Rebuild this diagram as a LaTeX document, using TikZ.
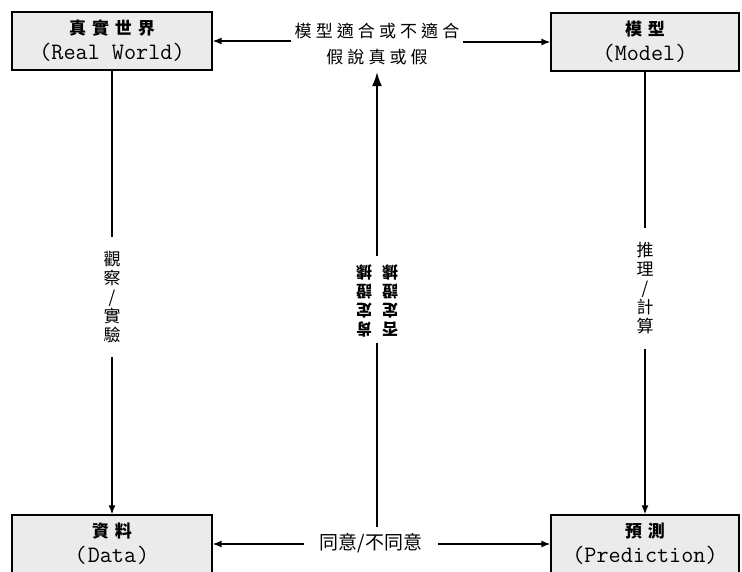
\documentclass[tikz,border=0pt]{standalone}
\usepackage{fontspec}
\setmainfont{Liberation Serif}
\newfontfamily\cjk{Noto Sans CJK TC}
\newfontfamily\mono{Latin Modern Mono}
\usetikzlibrary{arrows.meta,shadows}
\newcommand\lsp{\hspace{0.24em}}
\newcommand\bsp{\hspace{0.35em}}
\begin{document}
\begin{tikzpicture}[x=1pt,y=-1pt,
  box/.style={draw=black, line width=1.2pt, fill=black!8, minimum height=58pt,
    inner sep=0pt, align=center,
    font=\fontsize{18}{25}\selectfont,
    drop shadow={shadow xshift=1.3pt, shadow yshift=-1.3pt, fill=black, opacity=1}},
  lbl/.style={font=\cjk\fontsize{17}{26}\selectfont, align=center},
  vlbl/.style={font=\cjk\fontsize{17}{19}\selectfont, align=center, fill=white, inner xsep=3pt},
  arr/.style={line width=1.5pt, -{Latex[length=9pt,width=7pt]}},
  bigarr/.style={line width=1.8pt, -{Latex[length=14pt,width=10pt]}}]
\useasboundingbox (0,0) rectangle (742,572);
\clip (0,0) rectangle (742,572);
\fill[white] (0,0) rectangle (742,572);

% boxes
\node[box, minimum width=200pt] (rw) at (112,41)
  {{\cjk\bfseries\fontsize{17}{20}\selectfont 真\bsp 實\bsp 世\bsp 界}\\
   {\mono\fontsize{23.5}{24}\selectfont (Real World)}};
\node[box, minimum width=188pt] (model) at (645,42)
  {{\cjk\bfseries\fontsize{17}{20}\selectfont 模\bsp 型}\\
   {\mono\fontsize{23.5}{24}\selectfont (Model)}};
\node[box, minimum width=200pt] (data) at (112,544)
  {{\cjk\bfseries\fontsize{17}{20}\selectfont 資\bsp 料}\\
   {\mono\fontsize{23.5}{24}\selectfont (\hspace{1pt}Data\hspace{1pt})}};
\node[box, minimum width=188pt] (pred) at (645,544)
  {{\cjk\bfseries\fontsize{17}{20}\selectfont 預\bsp 測}\\
   {\mono\fontsize{23.5}{24}\selectfont (Prediction)}};

% labels
\node[lbl, inner xsep=4pt, inner ysep=7pt] (fit) at (377,44)
  {模\lsp 型\lsp 適\lsp 合\lsp 或\lsp 不\lsp 適\lsp 合\\假\lsp 說\lsp 真\lsp 或\lsp 假};
\node[font=\cjk\fontsize{19}{22}\selectfont, inner xsep=16pt, inner ysep=6pt] (agree) at (371,543)
  {同意/不同意};

% vertical arrows
\draw[arr] (rw.south) -- node[vlbl, pos=0.51, inner ysep=14pt] {觀\\察\\/\\實\\驗} (data.north);
\draw[arr] (model.south) -- node[vlbl, pos=0.49, inner ysep=15pt] {推\\理\\/\\計\\算} (pred.north);
\draw[bigarr] (agree.north -| fit.south) -- node[pos=0.5, fill=white, rotate=180, inner xsep=2pt, inner ysep=6pt,
   font=\cjk\bfseries\fontsize{16}{17}\selectfont]
   {\begin{tabular}{@{}c@{\hspace{10pt}}c@{}}否&肯\\定&定\\證&證\\據&據\end{tabular}} (fit.south);

% horizontal arrows
\draw[arr] (fit.west |- rw.east) -- (rw.east);
\draw[arr] (fit.east |- model.west) -- (model.west);
\draw[arr] (agree.west |- data.east) -- (data.east);
\draw[arr] (agree.east |- pred.west) -- (pred.west);
\end{tikzpicture}
\end{document}
